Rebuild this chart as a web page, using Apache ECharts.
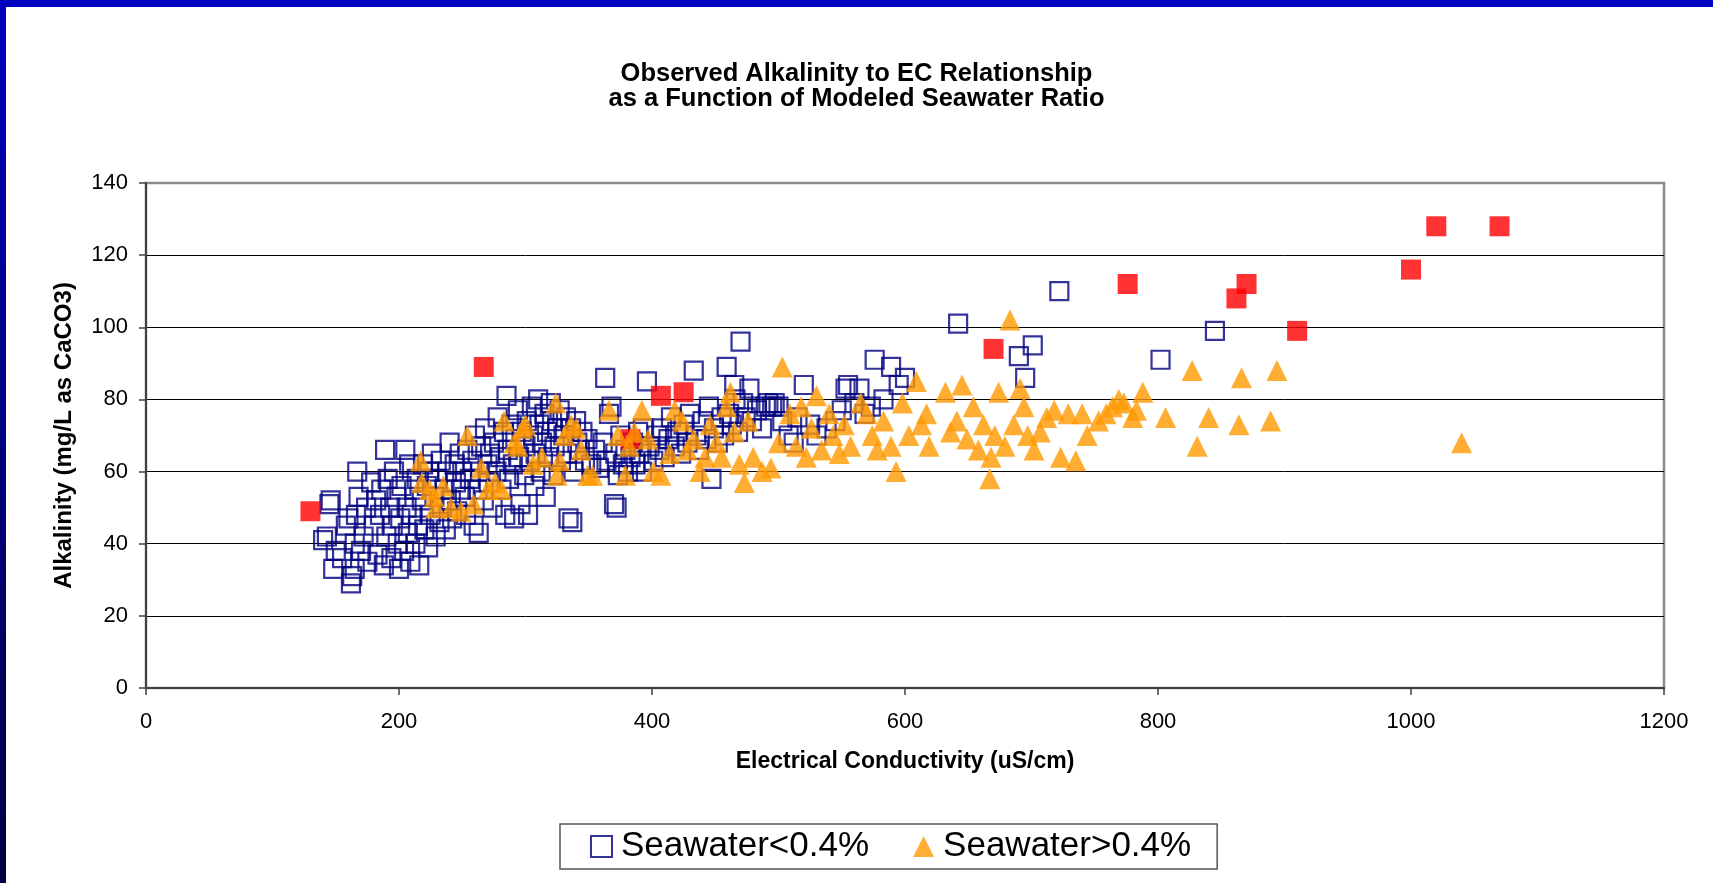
<!DOCTYPE html>
<html>
<head>
<meta charset="utf-8">
<title>Observed Alkalinity to EC Relationship</title>
<script src="https://cdn.jsdelivr.net/npm/echarts@6/dist/echarts.min.js"></script>
<style>
  html, body { margin: 0; padding: 0; background: #fff; }
  #chart { width: 1713px; height: 883px; }
</style>
</head>
<body>
<div id="chart"></div>
<script>
// x ticks / y ticks
const ecTicks = [0, 200, 400, 600, 800, 1000, 1200];
const alkTicks = [0, 20, 40, 60, 80, 100, 120, 140];

// Seawater < 0.4%  [EC, alkalinity]
const seaLow = [
  [140,41],[143,42],[146,52],[145,51],[148,33],[150,38],[155,36],[158,45],[160,47],[162,29],
  [163,31],[165,33],[165,40],[166,48],[167,60],[168,53],[170,38],[172,42],[174,50],[175,35],
  [178,57],[180,45],[182,52],[183,37],[185,48],[186,55],[188,34],[189,66],[190,42],[191,58],
  [193,50],[194,36],[195,45],[196,60],[198,53],[199,40],[200,33],[201,47],[202,56],[204,38],
  [205,66],[206,50],[207,43],[208,62],[209,35],[210,48],[212,55],[213,40],[214,58],[215,45],
  [216,34],[218,52],[219,62],[220,44],[222,56],[223,39],[224,60],[225,48],[226,65],[228,53],
  [229,42],[230,58],[232,46],[233,63],[234,50],[236,55],[237,44],[238,60],[240,68],[241,52],
  [242,47],[244,62],[245,57],[246,49],[248,65],[249,55],[250,60],[252,53],[253,48],[254,66],
  [256,58],[258,63],[259,45],[260,70],[262,55],[263,43],[264,60],[265,67],[267,52],[268,72],
  [270,62],[271,57],[272,65],[274,50],[275,68],[277,60],[278,75],[280,64],[281,55],[283,71],
  [284,48],[285,81],[286,66],[287,58],[289,73],[290,62],[291,47],[292,69],[294,77],[295,64],
  [296,51],[297,71],[299,59],[300,67],[301,74],[302,48],[303,63],[305,78],[306,70],[307,56],
  [308,65],[310,80],[311,73],[312,60],[313,68],[315,76],[316,53],[317,71],[318,64],[320,79],
  [321,74],[322,59],[323,67],[325,72],[327,77],[328,63],[330,70],[332,75],[333,65],[334,47],
  [336,72],[337,46],[338,60],[340,74],[341,68],[343,66],[345,71],[347,63],[349,69],[352,62],
  [355,66],[358,61],[361,68],[363,86],[364,63],[366,76],[368,78],[370,51],[371,65],[372,50],
  [373,59],[375,70],[377,62],[379,66],[381,60],[383,64],[385,68],[387,62],[389,71],[390,65],
  [392,60],[393,72],[396,85],[398,67],[401,63],[404,70],[406,66],[408,72],[410,64],[413,69],
  [415,75],[418,67],[420,71],[423,65],[425,73],[428,68],[430,76],[433,88],[435,70],[437,66],
  [440,74],[443,69],[445,78],[447,58],[449,72],[452,68],[455,75],[457,70],[459,89],[461,76],
  [463,73],[465,84],[466,80],[468,71],[470,96],[472,79],[474,75],[477,83],[479,74],[483,77],
  [487,72],[490,78],[492,79],[495,78],[497,79],[500,78],[503,74],[508,70],[512,68],[515,75],
  [520,84],[525,73],[530,70],[538,72],[545,74],[550,77],[553,83],[555,84],[560,79],[564,83],
  [568,76],[573,78],[576,91],[583,80],[589,89],[595,84],[600,86],[642,101],[690,92],[695,86],
  [701,95],[722,110],[802,91],[845,99]
];

// Seawater > 0.4%
const seaHigh = [
  [217,63],[218,57],[224,55],[228,53],[229,50],[235,56],[241,50],[249,49],[254,70],[259,51],
  [265,61],[270,55],[276,57],[281,55],[283,74],[291,68],[294,67],[298,72],[300,73],[306,62],
  [313,64],[324,79],[327,63],[325,59],[331,70],[336,73],[340,72],[344,66],[349,59],[353,59],
  [366,77],[373,70],[379,59],[382,67],[386,71],[392,77],[397,69],[401,60],[407,59],[414,65],
  [418,77],[424,74],[428,66],[433,69],[438,60],[442,64],[446,73],[451,68],[455,64],[459,78],
  [462,82],[465,71],[469,62],[473,57],[476,74],[480,64],[487,60],[494,61],[503,89],[500,68],
  [509,76],[514,67],[518,78],[522,64],[526,72],[530,81],[534,66],[540,76],[543,70],[548,65],
  [552,73],[557,67],[565,79],[570,76],[574,70],[578,66],[583,74],[589,67],[593,60],[598,79],
  [603,70],[609,85],[613,73],[617,76],[619,67],[632,82],[636,71],[641,74],[645,84],[649,69],
  [654,78],[658,66],[662,73],[667,58],[668,64],[671,70],[674,82],[679,67],[683,102],[686,73],
  [691,83],[694,78],[697,70],[702,66],[707,71],[712,75],[718,77],[723,64],[729,76],[735,63],
  [740,76],[744,70],[753,74],[759,76],[764,78],[769,80],[773,79],[780,75],[783,77],[788,82],
  [806,75],[827,88],[831,67],[840,75],[864,73],[866,86],[889,74],[894,88],[1040,68]
];

// red filled squares (not in legend)
const seaRed = [
  [130,49],[267,89],[383,69],[407,81],[425,82],[670,94],[776,112],[862,108],[870,112],
  [910,99],[1000,116],[1020,128],[1070,128]
];

const FONT = '"Liberation Sans", Arial, sans-serif';

const chart = echarts.init(document.getElementById('chart'));

const option = {
  backgroundColor: '#ffffff',
  animation: false,
  textStyle: { fontFamily: FONT, color: '#000' },
  // 蓝色边框（上边 + 左边渐变）
  graphic: [
    { type: 'rect', left: 0, top: 0, shape: { width: 1713, height: 7 }, style: { fill: '#0000c0' }, silent: true },
    {
      type: 'rect', left: 0, top: 0, shape: { width: 6, height: 883 }, silent: true,
      style: {
        fill: new echarts.graphic.LinearGradient(0, 0, 0, 1, [
          { offset: 0, color: '#0000c0' },
          { offset: 1, color: '#000040' }
        ])
      }
    }
  ],
  title: {
    text: 'Observed Alkalinity to EC Relationship\nas a Function of Modeled Seawater Ratio',
    left: 'center',
    top: 56,
    textStyle: { fontFamily: FONT, fontSize: 25.5, fontWeight: 'bold', color: '#000', lineHeight: 25 }
  },
  legend: {
    left: 560,
    top: 824,
    data: ['Seawater<0.4%', 'Seawater>0.4%'],
    itemWidth: 21,
    itemHeight: 21,
    itemGap: 44,
    padding: [5, 26, 5, 30],
    borderColor: '#555',
    borderWidth: 1.5,
    textStyle: { fontFamily: FONT, fontSize: 35, color: '#000', padding: [0, 0, 0, 4] }
  },
  grid: {
    left: 146, right: 49, top: 183, bottom: 195,
    show: true,
    borderColor: '#8c8c8c',
    borderWidth: 2.5,
    backgroundColor: '#fff'
  },
  xAxis: {
    type: 'value',
    min: ecTicks[0],
    max: ecTicks[ecTicks.length - 1],
    interval: 200,
    name: 'Electrical Conductivity (uS/cm)',
    nameLocation: 'middle',
    nameGap: 62,
    nameTextStyle: { fontFamily: FONT, fontSize: 23, fontWeight: 'bold', color: '#000' },
    axisLine: { show: true, lineStyle: { color: '#404040', width: 2 } },
    axisTick: { show: true, inside: false, length: 7, lineStyle: { color: '#404040', width: 1.5 } },
    axisLabel: { fontFamily: FONT, fontSize: 22, color: '#000', margin: 23, formatter: v => String(v) },
    splitLine: { show: false }
  },
  yAxis: {
    type: 'value',
    min: alkTicks[0],
    max: alkTicks[alkTicks.length - 1],
    interval: 20,
    name: 'Alkalinity (mg/L as CaCO3)',
    nameLocation: 'middle',
    nameGap: 70,
    nameTextStyle: { fontFamily: FONT, fontSize: 24, fontWeight: 'bold', color: '#000' },
    axisLine: { show: true, lineStyle: { color: '#404040', width: 2 } },
    axisTick: { show: true, inside: false, length: 7, lineStyle: { color: '#404040', width: 1.5 } },
    axisLabel: { fontFamily: FONT, fontSize: 22, color: '#000', margin: 18 },
    splitLine: { show: true, showMinLine: false, showMaxLine: false, lineStyle: { color: '#000', width: 1 } }
  },
  series: [
    {
      name: 'Seawater<0.4%',
      type: 'scatter',
      symbol: 'rect',
      symbolSize: 18,
      data: seaLow,
      itemStyle: { color: 'rgba(255,255,255,0)', borderColor: '#000080', borderWidth: 2.2 },
      z: 2
    },
    {
      name: 'Red',
      type: 'scatter',
      symbol: 'rect',
      symbolSize: 20,
      data: seaRed,
      itemStyle: { color: '#ff0000' },
      z: 3
    },
    {
      name: 'Seawater>0.4%',
      type: 'scatter',
      symbol: 'triangle',
      symbolSize: 21,
      data: seaHigh,
      itemStyle: { color: '#ff9900' },
      z: 4
    }
  ]
};

chart.setOption(option);
window.addEventListener('resize', () => chart.resize());
</script>
</body>
</html>
